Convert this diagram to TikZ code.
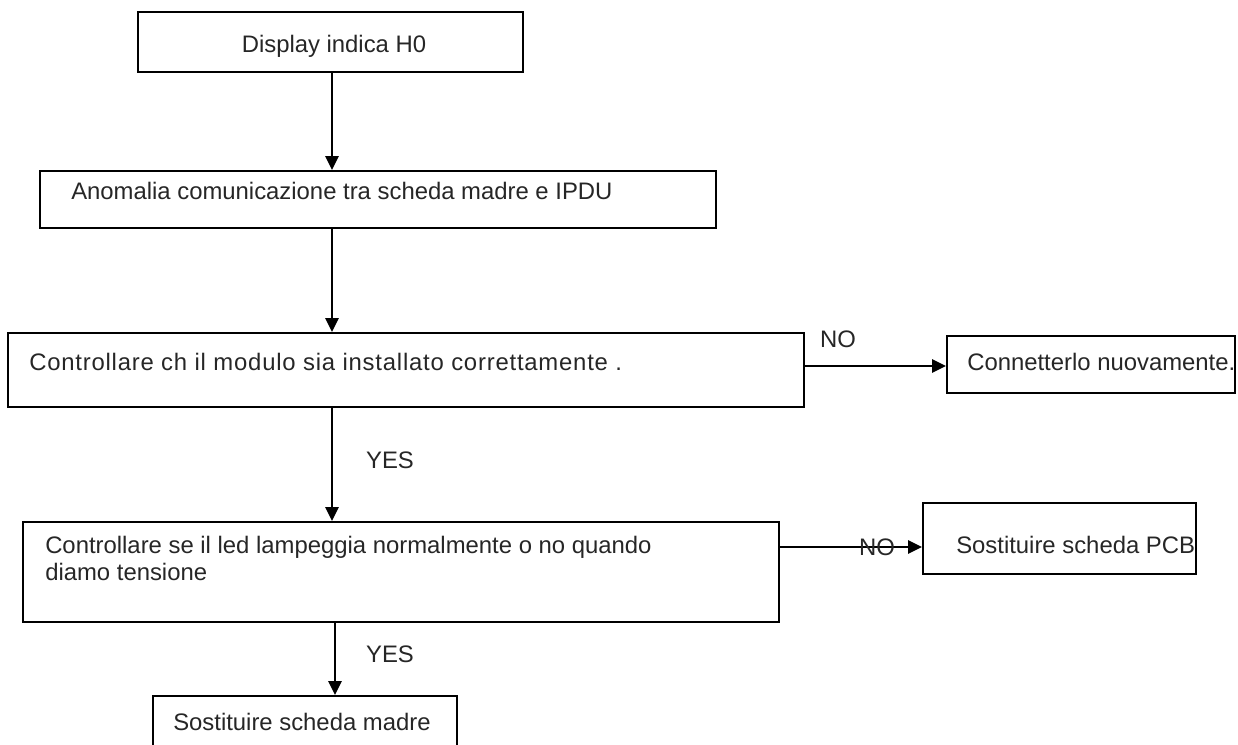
\documentclass[tikz,border=0pt]{standalone}
\usepackage{fontspec}
\setmainfont{Liberation Sans}
\usetikzlibrary{arrows.meta,fit}
\begin{document}
\begin{tikzpicture}[x=0.75pt,y=-0.75pt,
  box/.style={draw, line width=1.5pt, inner sep=0pt},
  txt/.style={inner sep=0pt, text=black!85, font=\fontsize{17.9}{21}\selectfont},
  arr/.style={line width=1.5pt, -{Triangle[length=10.5pt,width=10pt]}}]
\useasboundingbox (0,0) rectangle (1238,744);
% boxes
\node[box, fit={(138,12) (523,72)}] (b1) {};
\node[box, fit={(40,171) (716,228)}] (b2) {};
\node[box, fit={(8,333) (804,407)}] (b3) {};
\node[box, fit={(947,336) (1235,393)}] (b4) {};
\node[box, fit={(23,522) (779,622)}] (b5) {};
\node[box, fit={(923,503) (1196,574)}] (b6) {};
\node[box, fit={(153,696) (457,770)}] (b7) {};
% texts
\node[txt, anchor=base] (t1) at (334,52) {Display indica H0};
\node[txt, anchor=base west] (t2) at (71,199) {Anomalia comunicazione tra scheda madre e IPDU};
\node[txt, anchor=base west, font=\fontsize{17.9}{21}\selectfont\addfontfeatures{LetterSpace=3.3}] (t3) at (29,370) {Controllare ch il modulo sia installato correttamente .};
\node[txt, anchor=base west] (t4) at (967,370) {Connetterlo nuovamente.};
\node[txt, anchor=base west] (t5a) at (45,553) {Controllare se il led lampeggia normalmente o no quando};
\node[txt, anchor=base west] (t5b) at (45,580) {diamo tensione};
\node[txt, anchor=base west] (t6) at (956,553) {Sostituire scheda PCB};
\node[txt, anchor=base west] (t7) at (173,730) {Sostituire scheda madre};
% helper coordinates
\coordinate (s1) at (332,0);
\coordinate (s2) at (335,0);
\coordinate (n1) at (0,366);
\coordinate (n2) at (0,547);
% connectors
\draw[arr] (s1 |- b1.south) -- (s1 |- b2.north);
\draw[arr] (s1 |- b2.south) -- (s1 |- b3.north);
\draw[arr] (s1 |- b3.south) -- (s1 |- b5.north);
\draw[arr] (s2 |- b5.south) -- (s2 |- b7.north);
\draw[arr] (b3.east |- n1) -- (b4.west |- n1);
\draw[arr] (b5.east |- n2) -- (b6.west |- n2);
% labels
\node[txt, anchor=base] (l1) at (838,347) {NO};
\node[txt, anchor=base] (l2) at (390,468) {YES};
\node[txt, anchor=base] (l3) at (877,555) {NO};
\node[txt, anchor=base] (l4) at (390,662) {YES};
\end{tikzpicture}
\end{document}
